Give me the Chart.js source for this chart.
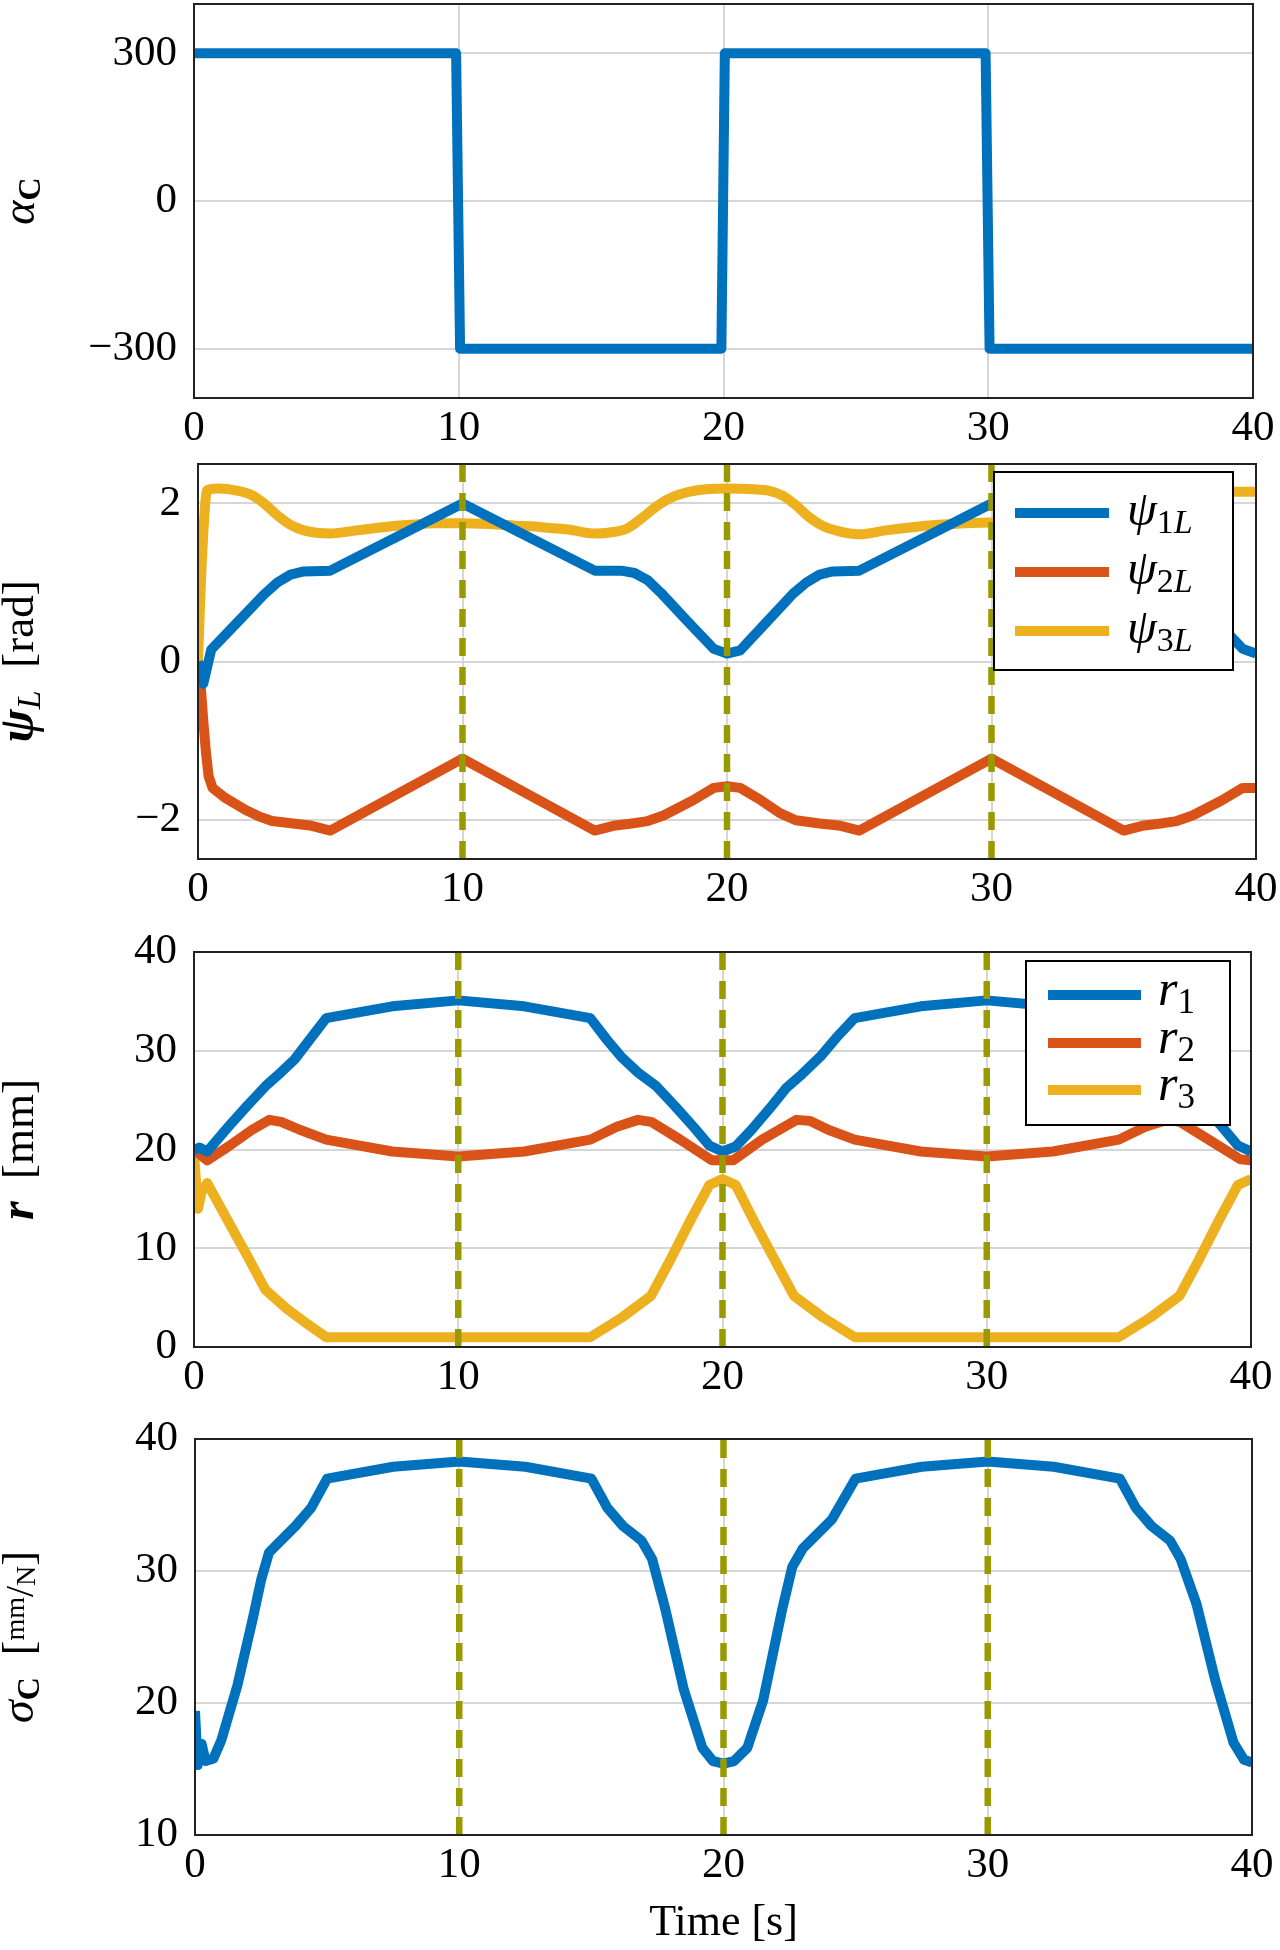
<!DOCTYPE html>
<html>
<head>
<meta charset="utf-8">
<title>Lever response</title>
<script src="https://cdn.jsdelivr.net/npm/chart.js@4.4.1/dist/chart.umd.min.js"></script>
<style>
  html, body { margin: 0; padding: 0; background: #fff; }
  #wrap { position: relative; width: 1280px; height: 1950px; overflow: hidden; }
  #wrap canvas { position: absolute; left: 0; }
</style>
</head>
<body>
<div id="wrap">
  <canvas id="alphaChart" width="1280" height="455" style="top:0px"></canvas>
  <canvas id="psiChart" width="1280" height="455" style="top:455px"></canvas>
  <canvas id="rChart" width="1280" height="490" style="top:910px"></canvas>
  <canvas id="sigmaChart" width="1280" height="550" style="top:1400px"></canvas>
</div>
<script>
// ── data ──
const TIME_TICKS  = [0, 10, 20, 30, 40];
const EVENT_TIMES = [10, 20, 30];

const alphaTime  = [0, 9.9, 10.05, 19.92, 20.05, 29.9, 30.05, 40];
const alphaC     = [300, 300, -300, -300, 300, 300, -300, -300];
const alphaTicks = [-300, 0, 300];
const alphaRange = [-400, 400];

const psi1Time = [0, 0.2, 0.5, 1.5, 2.5, 3.0, 3.5, 4.0, 5.0, 10, 15, 16.0, 16.5, 17.0, 17.5, 18.5, 19.5, 20, 20.5, 21.5, 22.5, 23.0, 23.5, 24.0, 25, 30, 35, 36.0, 36.5, 37.0, 37.5, 38.5, 39.5, 40];
const psi1     = [0, -0.28, 0.15, 0.5, 0.85, 1.0, 1.1, 1.14, 1.15, 2.0, 1.15, 1.15, 1.12, 1.03, 0.87, 0.51, 0.16, 0.1, 0.14, 0.5, 0.86, 1.0, 1.1, 1.14, 1.15, 2.0, 1.15, 1.15, 1.12, 1.03, 0.87, 0.51, 0.16, 0.1];
const psi2Time = [0, 0.1, 0.2, 0.3, 0.4, 0.55, 1.0, 1.8, 2.3, 2.8, 3.6, 4.3, 5.0, 10, 15, 15.7, 16.4, 17.0, 17.6, 18.7, 19.5, 20, 20.5, 21.3, 22.0, 22.6, 23.5, 24.3, 25, 30, 35, 35.7, 36.4, 37.0, 37.6, 38.7, 39.5, 40];
const psi2     = [0, -0.3, -0.75, -1.15, -1.45, -1.6, -1.72, -1.88, -1.96, -2.02, -2.05, -2.08, -2.14, -1.23, -2.14, -2.08, -2.05, -2.02, -1.95, -1.76, -1.6, -1.58, -1.6, -1.76, -1.92, -2.01, -2.05, -2.08, -2.14, -1.23, -2.14, -2.08, -2.05, -2.02, -1.95, -1.76, -1.6, -1.6];
const psi3Time = [0, 0.15, 0.35, 0.8, 1.5, 2.0, 2.5, 3.0, 3.5, 4.0, 5.0, 6, 7, 8, 9, 10, 11, 12, 13, 14, 15, 15.5, 16.2, 16.8, 17.4, 18.0, 18.6, 19.2, 20, 21, 21.6, 22.1, 22.6, 23.1, 23.6, 24.2, 25, 26, 27, 28, 29, 30, 31, 32, 33, 34, 35, 35.5, 36.2, 36.8, 37.4, 38.0, 38.6, 39.2, 40];
const psi3     = [0, 1.3, 2.17, 2.19, 2.16, 2.11, 2.0, 1.85, 1.73, 1.66, 1.62, 1.66, 1.7, 1.73, 1.75, 1.75, 1.74, 1.72, 1.7, 1.67, 1.62, 1.63, 1.68, 1.82, 1.98, 2.09, 2.15, 2.18, 2.19, 2.18, 2.16, 2.1, 1.98, 1.83, 1.72, 1.65, 1.61, 1.66, 1.7, 1.73, 1.75, 1.76, 1.75, 1.73, 1.71, 1.68, 1.63, 1.63, 1.68, 1.82, 1.98, 2.09, 2.13, 2.15, 2.15];
const psiTicks = [-2, 0, 2];
const psiRange = [-2.5, 2.5];

const r1Time = [0, 0.2, 0.5, 1.3, 2.0, 2.7, 3.2, 3.8, 4.4, 5, 7.5, 10, 12.5, 15, 15.6, 16.2, 16.8, 17.5, 18.2, 18.9, 19.5, 20, 20.5, 21.1, 21.8, 22.4, 23.0, 23.7, 24.3, 25, 27.5, 30, 32.5, 35, 35.6, 36.2, 36.8, 37.5, 38.2, 38.9, 39.5, 40];
const r1     = [19.9, 20.2, 19.8, 22.3, 24.4, 26.4, 27.6, 29.1, 31.2, 33.3, 34.5, 35.1, 34.5, 33.3, 31.2, 29.3, 27.8, 26.4, 24.4, 22.3, 20.4, 19.8, 20.3, 22.0, 24.2, 26.2, 27.6, 29.4, 31.3, 33.3, 34.5, 35.1, 34.5, 33.3, 31.2, 29.3, 27.8, 26.4, 24.4, 22.3, 20.4, 19.8];
const r2Time = [0, 0.5, 1.3, 2.2, 2.85, 3.3, 4.0, 5, 7.5, 10, 12.5, 15, 16.0, 16.8, 17.3, 18.4, 19.6, 20.4, 21.5, 22.8, 23.3, 24.0, 25, 27.5, 30, 32.5, 35, 36.0, 36.8, 37.3, 38.4, 39.6, 40];
const r2     = [20.0, 18.9, 20.3, 22.0, 23.0, 22.8, 22.0, 21.0, 19.8, 19.3, 19.8, 21.0, 22.3, 23.0, 22.8, 21.0, 18.9, 18.9, 21.0, 23.0, 22.9, 22.0, 21.0, 19.8, 19.3, 19.8, 21.0, 22.3, 23.0, 22.8, 21.0, 19.0, 18.9];
const r3Time = [0, 0.15, 0.3, 0.5, 1.3, 2.0, 2.7, 3.5, 4.2, 5, 15, 16.2, 17.3, 18.0, 18.8, 19.5, 20, 20.5, 21.2, 22.0, 22.7, 23.8, 25, 35, 36.2, 37.3, 38.0, 38.8, 39.5, 40];
const r3     = [19.6, 14.0, 15.8, 16.6, 12.7, 9.3, 5.8, 3.9, 2.5, 1.0, 1.0, 3.0, 5.2, 8.7, 12.9, 16.4, 17.0, 16.4, 12.7, 8.7, 5.2, 3.0, 1.0, 1.0, 3.0, 5.2, 8.7, 12.9, 16.4, 17.0];
const rTicks = [0, 10, 20, 30, 40];
const rRange = [0, 40];

const sigmaTime = [0, 0.1, 0.25, 0.4, 0.7, 1.0, 1.6, 2.2, 2.5, 2.8, 3.8, 4.4, 5, 7.5, 10, 12.5, 15, 15.6, 16.2, 16.9, 17.3, 17.8, 18.5, 19.2, 19.6, 20, 20.4, 20.9, 21.5, 22.2, 22.6, 23.0, 24.1, 25, 27.5, 30, 32.5, 35, 35.6, 36.2, 36.9, 37.3, 37.9, 38.6, 39.3, 39.7, 40];
const sigmaC    = [19.4, 15.3, 16.9, 15.6, 15.8, 17.2, 21.3, 26.5, 29.3, 31.4, 33.4, 34.8, 37.0, 37.9, 38.3, 37.9, 37.0, 34.8, 33.4, 32.3, 30.9, 27.1, 21.0, 16.6, 15.6, 15.4, 15.6, 16.6, 20.2, 26.9, 30.3, 31.7, 33.9, 37.0, 37.9, 38.3, 37.9, 37.0, 34.8, 33.4, 32.3, 30.9, 27.5, 21.8, 17.0, 15.7, 15.5];
const sigmaTicks = [10, 20, 30, 40];
const sigmaRange = [10, 40];

// ── look ──
const BLUE = '#0072BD', ORANGE = '#D95319', YELLOW = '#EDB120', OLIVE = '#999900';
const SERIF = "'Liberation Serif', 'DejaVu Serif', serif";
Chart.defaults.font.family = SERIF;
Chart.defaults.color = '#000';
const TICK_FONT = { family: SERIF, size: 43 };

function pts(t, v) { return t.map((x, i) => ({ x, y: v[i] })); }

// smooth = monotone cubic (no overshoot); otherwise straight segments
function curve(t, v, color, smooth) {
  return {
    data: pts(t, v), borderColor: color, borderWidth: 10, pointRadius: 0,
    tension: 0, cubicInterpolationMode: smooth ? 'monotone' : 'default',
    borderJoinStyle: 'round', order: 1
  };
}

// vertical dashed markers, spanning the axis range
function eventLines(range) {
  return EVENT_TIMES.map(t => ({
    data: [{ x: t, y: range[0] }, { x: t, y: range[1] }],
    borderColor: OLIVE, borderWidth: 6.5, borderDash: [18, 11], pointRadius: 0, order: 0
  }));
}

// text made of pieces (for subscripts)
function drawRich(ctx, segs, x, y, align) {
  let w = 0;
  segs.forEach(s => { ctx.font = s.font; w += ctx.measureText(s.text).width; });
  let cx = align === 'center' ? x - w / 2 : x;
  ctx.textAlign = 'left';
  ctx.textBaseline = 'alphabetic';
  ctx.fillStyle = '#000';
  segs.forEach(s => {
    ctx.font = s.font;
    ctx.fillText(s.text, cx, y + (s.dy || 0));
    cx += ctx.measureText(s.text).width;
  });
}

const f = (style, size) => `${style} ${size}px ${SERIF}`;

const panelDecor = {
  id: 'panelDecor',
  afterDraw(chart, args, o) {
    const { ctx, chartArea: a } = chart;
    ctx.save();
    ctx.strokeStyle = '#222';
    ctx.lineWidth = 2;
    ctx.strokeRect(a.left, a.top, a.right - a.left, a.bottom - a.top);

    if (o.legend) {
      const L = o.legend, top = o.canvasTop;
      ctx.fillStyle = '#fff';
      ctx.fillRect(L.box[0], L.box[1] - top, L.box[2] - L.box[0], L.box[3] - L.box[1]);
      ctx.strokeStyle = '#000';
      ctx.strokeRect(L.box[0], L.box[1] - top, L.box[2] - L.box[0], L.box[3] - L.box[1]);
      L.items.forEach((it, i) => {
        const y = L.rows[i] - top;
        ctx.strokeStyle = it.color;
        ctx.lineWidth = 10;
        ctx.beginPath();
        ctx.moveTo(L.lineX[0], y);
        ctx.lineTo(L.lineX[1], y);
        ctx.stroke();
        drawRich(ctx, it.label, L.textX, y + L.baseline, 'left');
      });
    }

    if (o.yLabel) {
      ctx.translate(o.yLabelX, (a.top + a.bottom) / 2);
      ctx.rotate(-Math.PI / 2);
      drawRich(ctx, o.yLabel, 0, 0, 'center');
    }
    ctx.restore();
  }
};

function makePanel(id, canvasTop, area, datasets, yTicks, yRange, decor, xTitle) {
  const canvas = document.getElementById(id);
  const H = canvas.height;
  return new Chart(canvas, {
    type: 'line',
    data: { datasets },
    options: {
      responsive: false,
      animation: false,
      devicePixelRatio: 1,
      layout: { padding: { left: 0, top: area.top - canvasTop, right: 1280 - area.right, bottom: 0 } },
      plugins: {
        legend: { display: false },
        tooltip: { enabled: false },
        panelDecor: Object.assign({ canvasTop }, decor)
      },
      scales: {
        x: {
          type: 'linear', min: 0, max: 40,
          grid: { color: '#d6d6d6', lineWidth: 2, drawTicks: false },
          border: { display: false },
          ticks: { font: TICK_FONT, color: '#000', padding: 5, maxRotation: 0 },
          title: xTitle ? { display: true, text: xTitle, color: '#000', font: { family: SERIF, size: 44 }, padding: { top: 0, bottom: 0 } } : { display: false },
          afterBuildTicks: s => { s.ticks = TIME_TICKS.map(v => ({ value: v })); },
          afterFit: s => { s.height = canvasTop + H - area.bottom; s.paddingLeft = 0; s.paddingRight = 0; }
        },
        y: {
          type: 'linear', min: yRange[0], max: yRange[1],
          grid: { color: '#d6d6d6', lineWidth: 2, drawTicks: false },
          border: { display: false },
          ticks: { font: TICK_FONT, color: '#000', padding: 17, callback: v => String(v).replace('-', '\u2212') },
          afterBuildTicks: s => { s.ticks = yTicks.map(v => ({ value: v })); },
          afterFit: s => { s.width = area.left; s.paddingTop = 0; s.paddingBottom = 0; }
        }
      }
    },
    plugins: [panelDecor]
  });
}

function psiLabel(n) {
  return [{ text: 'ψ', font: f('italic', 48) }, { text: n, font: f('normal', 34), dy: 8 }, { text: 'L', font: f('italic', 34), dy: 8 }];
}
function rLabel(n) {
  return [{ text: 'r', font: f('italic', 50) }, { text: n, font: f('normal', 35), dy: 8 }];
}

// ── panel 1: alpha_C ──
makePanel('alphaChart', 0, { left: 194, top: 4, right: 1253, bottom: 398 },
  [curve(alphaTime, alphaC, BLUE, false)], alphaTicks, alphaRange,
  { yLabelX: 34, yLabel: [{ text: 'α', font: f('italic', 46) }, { text: 'C', font: f('bold', 32), dy: 6 }] });

// ── panel 2: psi_L ──
makePanel('psiChart', 455, { left: 198, top: 464, right: 1256, bottom: 859 },
  [curve(psi1Time, psi1, BLUE, false), curve(psi2Time, psi2, ORANGE, false), curve(psi3Time, psi3, YELLOW, true)].concat(eventLines(psiRange)),
  psiTicks, psiRange,
  {
    yLabelX: 33,
    yLabel: [{ text: 'ψ', font: f('bold italic', 50) }, { text: 'L', font: f('italic', 34), dy: 7 }, { text: '  [rad]', font: f('normal', 45) }],
    legend: {
      box: [994, 472, 1233, 670], lineX: [1015, 1109], rows: [513, 572, 631], textX: 1127, baseline: 12,
      items: [
        { color: BLUE,   label: psiLabel('1') },
        { color: ORANGE, label: psiLabel('2') },
        { color: YELLOW, label: psiLabel('3') }
      ]
    }
  });

// ── panel 3: r ──
makePanel('rChart', 910, { left: 194, top: 952, right: 1251, bottom: 1347 },
  [curve(r1Time, r1, BLUE, false), curve(r2Time, r2, ORANGE, false), curve(r3Time, r3, YELLOW, false)].concat(eventLines(rRange)),
  rTicks, rRange,
  {
    yLabelX: 33,
    yLabel: [{ text: 'r', font: f('bold italic', 48) }, { text: '  [mm]', font: f('normal', 45) }],
    legend: {
      box: [1026, 961, 1230, 1125], lineX: [1048, 1141], rows: [995, 1043, 1090], textX: 1158, baseline: 10,
      items: [
        { color: BLUE,   label: rLabel('1') },
        { color: ORANGE, label: rLabel('2') },
        { color: YELLOW, label: rLabel('3') }
      ]
    }
  });

// ── panel 4: sigma_C ──
makePanel('sigmaChart', 1400, { left: 195, top: 1439, right: 1252, bottom: 1835 },
  [curve(sigmaTime, sigmaC, BLUE, false)].concat(eventLines(sigmaRange)),
  sigmaTicks, sigmaRange,
  {
    yLabelX: 33,
    yLabel: [
      { text: 'σ', font: f('italic', 46) }, { text: 'C', font: f('bold', 32), dy: 6 },
      { text: '  [', font: f('normal', 44) }, { text: 'mm', font: f('normal', 28), dy: -9 },
      { text: '/', font: f('normal', 40) }, { text: 'N', font: f('normal', 28), dy: 2 },
      { text: ']', font: f('normal', 44) }
    ]
  }, 'Time [s]');
</script>
</body>
</html>
